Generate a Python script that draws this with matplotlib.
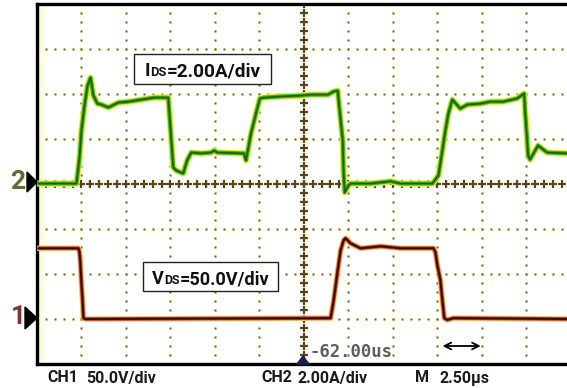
import matplotlib
matplotlib.use("Agg")
import matplotlib.pyplot as plt
from matplotlib import font_manager
from matplotlib.patches import Rectangle, Polygon
import numpy as np

# ---------------- data ----------------
# CH2 : drain current I_DS (A) vs time (us), 2.00 A/div, ground at 4 div
t_ids = [-14.91, -12.78, -12.61, -12.50, -12.33, -12.16, -11.99, -11.83, -11.60,
         -11.38, -10.99, -10.43, -9.86, -9.14, -8.41, -7.62, -7.34, -7.17, -6.78,
         -6.56, -6.33, -5.77, -5.21, -5.04, -4.88, -3.36, -3.25, -2.97, -2.69,
         -2.47, -2.24, -1.29, -0.17, 0.39, 1.35, 1.68, 1.91, 1.96, 2.19, 2.24,
         2.30, 2.52, 2.63, 3.76, 4.88, 5.44, 7.23, 7.57, 7.79, 7.96, 8.13, 8.35,
         8.80, 9.19, 9.92, 10.48, 11.21, 11.99, 12.39, 12.44, 12.56, 12.61, 12.72,
         13.17, 13.68, 14.80]
i_ds = [0.02, 0.02, 1.18, 2.38, 3.49, 4.37, 4.73, 3.93, 3.57,
        3.53, 3.40, 3.62, 3.66, 3.75, 3.84, 3.84, 0.74, 0.60, 0.47,
        1.05, 1.40, 1.36, 1.40, 1.49, 1.40, 1.36, 1.05, 2.24, 3.13,
        3.80, 3.84, 3.89, 3.93, 3.97, 3.97, 4.11, 4.15, 3.71, 1.93, 0.47,
        -0.37, -0.06, 0.02, 0.02, 0.12, 0.02, 0.02, 0.38, 1.49, 2.38, 3.13, 3.75,
        3.35, 3.53, 3.57, 3.66, 3.66, 3.80, 4.02, 3.26, 1.93, 1.27, 1.09,
        1.71, 1.40, 1.36]

# CH1 : drain-source voltage V_DS (V) vs time (us), 50.0 V/div, ground at 1 div
t_vds = [-14.91, -12.67, -12.61, -12.56, -12.50, -12.44, -12.39, -12.27, -11.66,
         1.51, 1.68, 1.91, 2.07, 2.24, 2.35, 2.63, 3.19, 4.32, 5.44,
         7.29, 7.40, 7.51, 7.68, 7.79, 7.90, 8.07, 8.41, 14.80]
v_ds = [78.6, 78.6, 74.2, 62.0, 39.8, 21.0, 1.0, 0.0, 0.0,
        1.0, 21.0, 54.3, 76.4, 87.5, 89.7, 84.1, 78.6, 80.8, 78.6,
        78.6, 74.2, 59.8, 43.2, 21.0, 1.0, -1.0, 1.0, 0.0]

ch1_scale, ch2_scale, time_scale = 50.0, 2.0, 2.5
ch1_ground, ch2_ground = 1, 4
box_ids = ["I", "DS", "=2.00A/div"]
box_vds = ["V", "DS", "=50.0V/div"]
bottom_labels = [("CH1", "50.0V/div"), ("CH2", "2.00A/div"), ("M", "2.50\u00b5s")]
trigger_label = "-62.00us"

# ---------------- figure ----------------
W, H = 567, 388
fig = plt.figure(figsize=(W / 100, H / 100), dpi=100)
fig.patch.set_facecolor("white")
_installed = {f.name for f in font_manager.fontManager.ttflist}
FONT = "Liberation Sans Narrow" if "Liberation Sans Narrow" in _installed else "Roboto"
renderer = fig.canvas.get_renderer()


def P(px, py):
    return (px / W, 1 - py / H)


def fit_text(px, py, s, width, **kw):
    t = fig.text(*P(px, py), s, fontsize=12, **kw)
    w = t.get_window_extent(renderer).width
    t.set_fontsize(12 * width / w)
    return t


ax = fig.add_axes([37 / W, 24 / H, 530 / W, 360 / H])
x_left = -6 * time_scale
x_right = (567 - 303) / 44.6 * time_scale
ax.set_xlim(x_left, x_right)
ax.set_ylim(0, 8)
ax.set_xticks([])
ax.set_yticks([])
for s in ["left", "top", "bottom"]:
    ax.spines[s].set_linewidth(2.4)
    ax.spines[s].set_color("black")
ax.spines["right"].set_visible(False)

# yellow glow on the left edge
for k, a in enumerate([0.35, 0.25, 0.16, 0.09, 0.05]):
    ax.axvspan(x_left + k * 0.11, x_left + (k + 1) * 0.11, color="#f2f060",
               alpha=a, lw=0, zorder=0)

# dotted graticule
dot_col = "#6b5a22"
ys_dots = np.arange(0, 8.001, 0.2)
xs_dots = np.arange(-15, x_right, 0.5)
for k in range(-5, 6):
    if k == 0:
        continue
    ax.plot(np.full_like(ys_dots, k * time_scale), ys_dots, ls="none",
            marker="o", ms=1.7, color=dot_col, mec="#d8d060", mew=0.3, zorder=1)
for j in range(1, 8):
    if j == 4:
        continue
    ax.plot(xs_dots, np.full_like(xs_dots, j), ls="none", marker="o", ms=1.7,
            color=dot_col, mec="#d8d060", mew=0.3, zorder=1)
# centre crosshair
ax.plot(np.zeros_like(ys_dots), ys_dots, ls="none", marker="+", ms=5.5,
        mew=1.6, color="#5a4512", zorder=1)
ax.plot(xs_dots, np.full_like(xs_dots, 4.0), ls="none", marker="+", ms=5.5,
        mew=1.6, color="#5a4512", zorder=1)

# traces
yi = np.array(i_ds) / ch2_scale + ch2_ground
yv = np.array(v_ds) / ch1_scale + ch1_ground
kw = dict(solid_joinstyle="round", solid_capstyle="round")
ax.plot(t_ids, yi, color="#e6f040", lw=4.6, zorder=3, **kw)
ax.plot(t_ids, yi, color="#3fae22", lw=2.9, zorder=4, **kw)
ax.plot(t_ids, yi, color="#1d5e12", lw=1.2, zorder=5, **kw)
ax.plot(t_vds, yv, color="#f5c070", lw=4.0, zorder=3, **kw)
ax.plot(t_vds, yv, color="#b0401a", lw=2.6, zorder=4, **kw)
ax.plot(t_vds, yv, color="#3e0808", lw=1.4, zorder=5, **kw)

# trigger-position marker and time text
fig.patches.append(Polygon([P(297, 364), P(303, 356), P(309, 364)],
                           closed=True, transform=fig.transFigure,
                           color="#1a2050", zorder=10))
fit_text(310, 352, trigger_label, 83, family="DejaVu Sans Mono",
         color="#5e5e5e", va="center", ha="left", fontweight="bold")

# double arrow (one time division)
ax.annotate("", xy=(7.8 + 2.15, 0.4), xytext=(7.8, 0.4),
            arrowprops=dict(arrowstyle="<->", color="black", lw=1.3,
                            mutation_scale=12, shrinkA=0, shrinkB=0))

# channel markers
fig.text(*P(18, 182), "2", fontsize=19, family=FONT, fontweight="bold",
         color="#5b6e30", ha="center", va="center")
fig.patches.append(Polygon([P(27, 172), P(37, 182), P(27, 192)], closed=True,
                           transform=fig.transFigure, color="black", zorder=10))
fig.text(*P(18, 317), "1", fontsize=19, family=FONT, fontweight="bold",
         color="#7a3535", ha="center", va="center")
fig.patches.append(Polygon([P(25, 307), P(37, 318), P(25, 329)], closed=True,
                           transform=fig.transFigure, color="black", zorder=10))


# label boxes
def label_box(x0, y0, x1, y1, parts, tx, ty, width):
    r = Rectangle(P(x0, y1), (x1 - x0) / W, (y1 - y0) / H,
                  transform=fig.transFigure, facecolor="white",
                  edgecolor="#222222", lw=1.0, zorder=20)
    fig.patches.append(r)
    rel = [1.0, 0.68, 1.0]
    texts = []
    for part, f in zip(parts, rel):
        t = fig.text(*P(tx, ty), part, fontsize=12 * f, family=FONT,
                     fontweight="bold", color="#111111", ha="left",
                     va="baseline", zorder=21)
        texts.append(t)
    tot = sum(t.get_window_extent(renderer).width for t in texts)
    scale = width / tot
    x = tx
    for t, f in zip(texts, rel):
        t.set_fontsize(12 * f * scale)
        t.set_position(P(x, ty))
        x += t.get_window_extent(renderer).width


label_box(134, 54, 271, 84, box_ids, 145, 76.5, 116)
label_box(143, 262, 278, 291, box_vds, 152, 284.5, 117)

# bottom channel / timebase readouts (one common font size)
ref = fit_text(298, 382.5, bottom_labels[1][1], 70, family=FONT,
               fontweight="bold", color="#1a1a1a", ha="left", va="baseline")
fs_bottom = ref.get_fontsize()
ref.remove()
positions = [(47, 86), (261, 298), (415, 440)]
for (a, b), (xa, xb) in zip(bottom_labels, positions):
    for s, x in ((a, xa), (b, xb)):
        fig.text(*P(x, 382.5), s, fontsize=fs_bottom, family=FONT,
                 fontweight="bold", color="#1a1a1a", ha="left", va="baseline")

fig.savefig("out.png", dpi=100, facecolor="white")
